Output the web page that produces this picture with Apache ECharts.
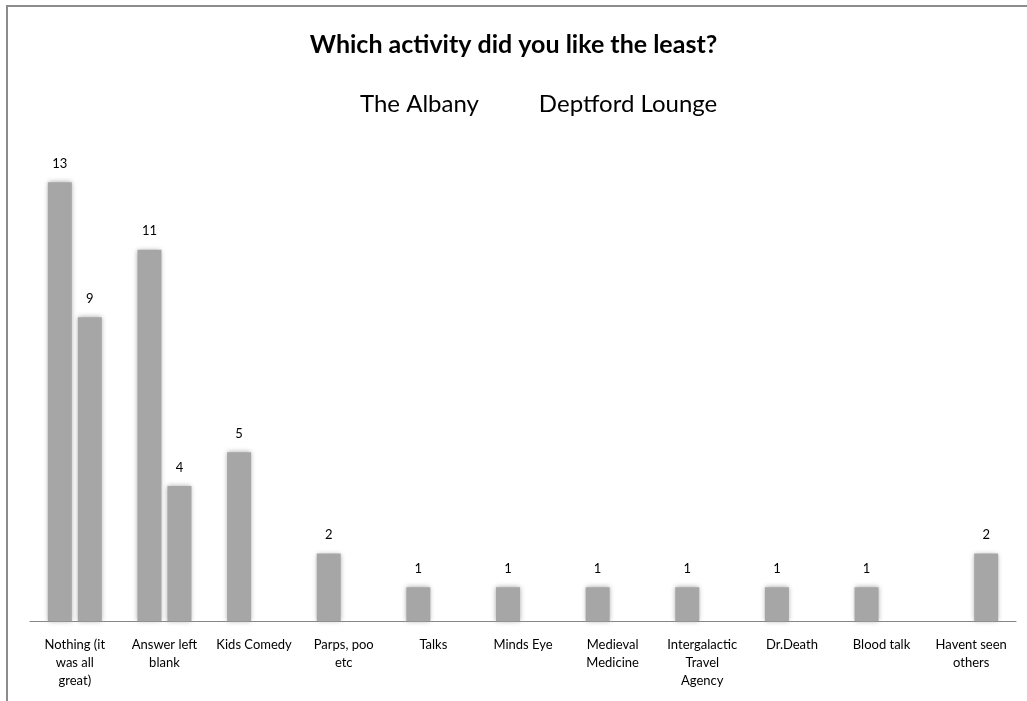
<!DOCTYPE html>
<html>
<head>
<meta charset="utf-8">
<script src="https://cdn.jsdelivr.net/npm/echarts@6/dist/echarts.min.js"></script>
<style>
  html, body { margin: 0; padding: 0; background: #ffffff; }
  #chart { width: 1027px; height: 701px; }
</style>
</head>
<body>
<div id="chart"></div>
<script>
// Survey answers: least-liked activity, per venue
const titleText = 'Which activity did you like the least?';
const categories = [
  'Nothing (it\nwas all\ngreat)',
  'Answer left\nblank',
  'Kids Comedy',
  'Parps, poo\netc',
  'Talks',
  'Minds Eye',
  'Medieval\nMedicine',
  'Intergalactic\nTravel\nAgency',
  'Dr.Death',
  'Blood talk',
  'Havent seen\nothers'
];
const seriesNames = ['The Albany', 'Deptford Lounge'];
const albany = [13, 11, 5, 2, 1, 1, 1, 1, 1, 1, null];
const deptford = [9, 4, null, null, null, null, null, null, null, null, 2];

const FONT = 'Lato, "Liberation Sans", sans-serif';
const BAR = '#a6a6a6';

function barSeries(name, values) {
  return {
    name: name,
    type: 'bar',
    data: values,
    barWidth: 24,
    barGap: '25%',
    itemStyle: { color: BAR, shadowColor: BAR, shadowBlur: 5 },
    label: {
      show: true,
      position: 'top',
      distance: 12,
      color: '#000000',
      fontFamily: FONT,
      fontSize: 13
    }
  };
}

const chart = echarts.init(document.getElementById('chart'), null, { renderer: 'canvas' });
chart.setOption({
  animation: false,
  backgroundColor: '#ffffff',
  title: {
    text: titleText,
    left: 'center',
    top: 27,
    textStyle: { fontFamily: FONT, fontSize: 25, fontWeight: 'bold', color: '#000000' }
  },
  legend: {
    data: seriesNames,
    top: 87,
    left: 350,
    icon: 'none',
    itemWidth: 0,
    itemHeight: 0,
    itemGap: 55,
    textStyle: { fontFamily: FONT, fontSize: 24, color: '#000000' }
  },
  grid: { left: 30, right: 11, top: 148.5, bottom: 80 },
  xAxis: {
    type: 'category',
    data: categories,
    axisLine: { lineStyle: { color: '#868686', width: 1 } },
    axisTick: { show: false },
    axisLabel: {
      interval: 0,
      margin: 15,
      color: '#000000',
      fontFamily: FONT,
      fontSize: 13,
      lineHeight: 18
    }
  },
  yAxis: {
    type: 'value',
    min: 0,
    max: 14,
    show: false,
    splitLine: { show: false }
  },
  graphic: [
    {
      type: 'polyline',
      shape: { points: [[7, 720], [7, 6], [1040, 6]] },
      style: { stroke: '#8c8c8c', lineWidth: 2, fill: null },
      silent: true
    }
  ],
  series: [barSeries(seriesNames[0], albany), barSeries(seriesNames[1], deptford)]
});
</script>
</body>
</html>
